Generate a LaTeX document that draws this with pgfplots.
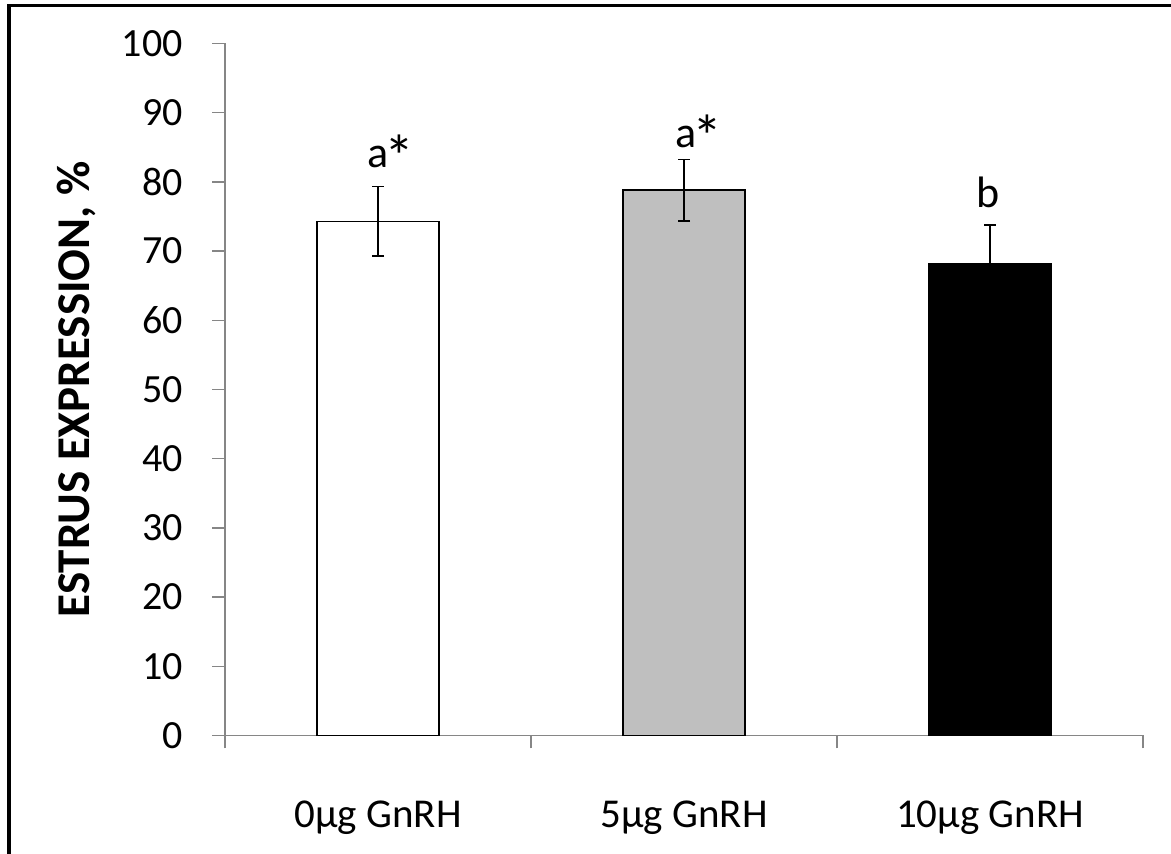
\documentclass[border=0pt]{standalone}
\usepackage{fontspec}
\setmainfont{Carlito}
\usepackage{pgfplots}
\pgfplotsset{compat=1.18}
\definecolor{axgray}{RGB}{134,134,134}
\definecolor{bargray}{RGB}{191,191,191}
\newcommand{\bigast}{\kern-2pt\raisebox{-5pt}{\fontsize{30}{30}\selectfont *}}
\begin{document}
\begin{tikzpicture}
\useasboundingbox (0,0) rectangle (585.5pt,427pt);
\draw[line width=2pt] (4.5pt,0) -- (4.5pt,424.1pt);
\draw[line width=1.5pt] (3.5pt,424.1pt) -- (585.5pt,424.1pt);
\begin{axis}[
  at={(112.5pt,59.25pt)}, anchor=south west,
  scale only axis, width=459pt, height=346pt,
  xmin=-0.5, xmax=2.5, ymin=0, ymax=100,
  axis x line=bottom, axis y line=left,
  axis line style={draw=axgray, line width=0.75pt, -},
  ytick={0,10,...,100},
  xtick={-0.5,0.5,1.5,2.5},
  x tick label as interval,
  xticklabels={0µg GnRH,5µg GnRH,10µg GnRH},
  tick style={draw=axgray, line width=0.75pt},
  major tick length=6.5pt, tick align=outside,
  /pgf/number format/assume math mode=true,
  ticklabel style={font=\fontsize{20}{24}\selectfont},
  yticklabel style={anchor=east, inner sep=0pt, xshift=-14.5pt},
  xticklabel style={anchor=base, yshift=-39.75pt, font=\fontsize{20.5}{24}\selectfont},
  ylabel={ESTRUS EXPRESSION, \%},
  ylabel style={font=\fontsize{23.5}{28}\selectfont\bfseries, at={(axis description cs:-0.1623,0.5)}, anchor=center},
  clip=false,
]
\addplot[ybar, bar shift=0pt, bar width=0.4, fill=white, draw=black, line width=0.75pt,
  error bars/.cd, y dir=both, y explicit,
  error bar style={black, line width=0.75pt},
  error mark options={black, line width=0.75pt, mark size=3pt, rotate=90}]
  coordinates {(0,74.3) +- (0,5.0)};
\addplot[ybar, bar shift=0pt, bar width=0.4, fill=bargray, draw=black, line width=0.75pt,
  error bars/.cd, y dir=both, y explicit,
  error bar style={black, line width=0.75pt},
  error mark options={black, line width=0.75pt, mark size=3pt, rotate=90}]
  coordinates {(1,78.8) +- (0,4.45)};
\addplot[ybar, bar shift=0pt, bar width=0.4, fill=black, draw=black, line width=0.75pt,
  error bars/.cd, y dir=both, y explicit,
  error bar style={black, line width=0.75pt},
  error mark options={black, line width=0.75pt, mark size=3pt, rotate=90}]
  coordinates {(2,68.1) +- (0,5.7)};
\node[anchor=base, xshift=6.5pt, font=\fontsize{22}{26}\selectfont] at (axis cs:0,82.15) {a\bigast};
\node[anchor=base, xshift=7.25pt, font=\fontsize{22}{26}\selectfont] at (axis cs:1,84.9) {a\bigast};
\node[anchor=base, xshift=-1.1pt, font=\fontsize{22}{26}\selectfont] at (axis cs:2,76.23) {b};
\end{axis}
\end{tikzpicture}
\end{document}
